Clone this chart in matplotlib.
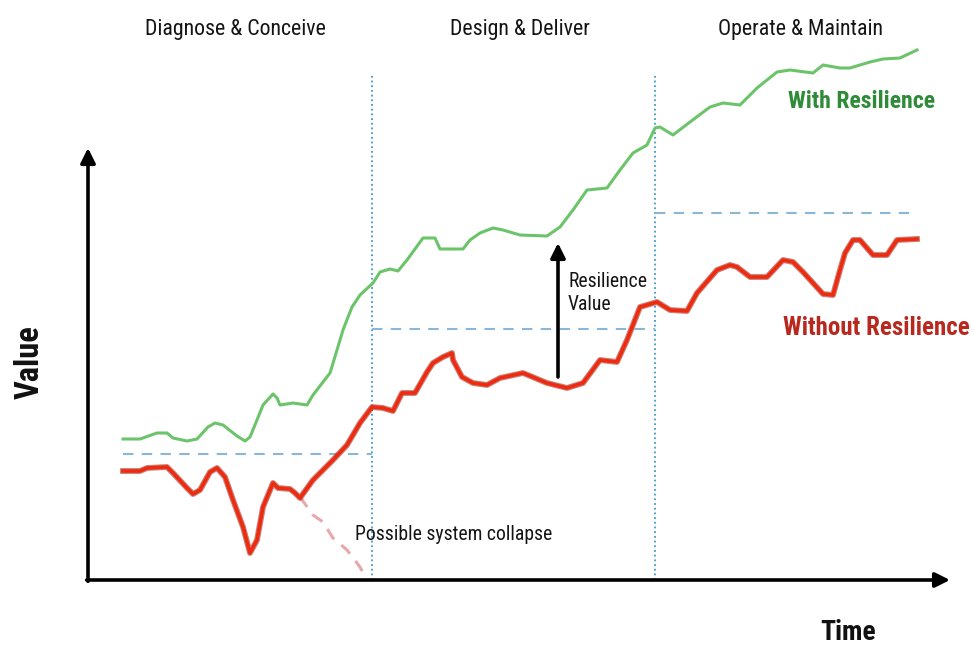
import matplotlib
matplotlib.use("Agg")
import matplotlib.pyplot as plt
import matplotlib.font_manager as font_manager

# Curve values (time, value)
green_t = [35, 52, 69, 79, 85, 99, 109, 120, 127, 135, 149, 157, 162, 169, 175, 185, 189, 192,
           205, 219, 225, 242, 249, 255, 264, 272, 285, 292, 302, 310, 319, 335, 347, 352, 375,
           382, 392, 405, 415, 432, 459, 472, 485, 499, 519, 532, 545, 559, 567, 572, 585, 602,
           622, 635, 652, 669, 689, 702, 725, 735, 752, 762, 782, 795, 812, 829]
green_v = [141, 141, 147, 147, 142, 139, 141, 153, 157, 155, 144, 139, 143, 160, 175, 186, 182, 175,
           177, 175, 185, 207, 230, 250, 273, 285, 297, 308, 311, 309, 320, 342, 342, 331, 331,
           340, 347, 352, 350, 345, 344, 353, 370, 390, 392, 410, 427, 435, 452, 453, 445, 458,
           473, 477, 475, 492, 508, 510, 507, 515, 512, 512, 518, 521, 522, 530]

red_t = [35, 52, 59, 79, 85, 99, 105, 112, 122, 129, 137, 145, 155, 162, 169, 175, 185, 190,
         202, 207, 212, 225, 245, 259, 272, 284, 295, 305, 314, 327, 339, 345, 355, 364, 365,
         374, 385, 399, 412, 435, 459, 479, 495, 512, 529, 539, 552, 569, 582, 599, 609, 629,
         642, 649, 662, 679, 695, 705, 715, 735, 745, 752, 757, 765, 772, 785, 799, 809, 829]
red_v = [109, 109, 112, 113, 107, 92, 86, 90, 108, 112, 103, 80, 53, 27, 40, 73, 97, 92,
         91, 87, 82, 100, 120, 135, 157, 173, 172, 169, 187, 187, 208, 217, 223, 227, 220,
         203, 197, 195, 202, 207, 197, 192, 197, 220, 218, 240, 273, 278, 270, 269, 287, 310,
         315, 313, 303, 303, 320, 318, 308, 286, 285, 310, 327, 340, 340, 325, 325, 340, 341]

collapse_t = [212, 225, 235, 245, 259, 272, 279]
collapse_v = [83, 65, 58, 42, 30, 13, 0]

# Phases: boundaries and baseline value reached in each phase
phase_names = ["Diagnose & Conceive", "Design & Deliver", "Operate & Maintain"]
phase_start = [35, 284, 567]
phase_end = [284, 567, 829]
phase_base = [126, 251, 367]


def pick_font():
    # look for a narrow / condensed sans, else DejaVu
    names = {f.name for f in font_manager.fontManager.ttflist}
    for cand in ['Liberation Sans Narrow', 'Roboto Condensed', 'Open Sans Condensed',
                 'DejaVu Sans Condensed', 'Noto Sans Condensed']:
        if cand in names:
            return cand, 'normal'
    for f in font_manager.fontManager.ttflist:
        if f.name == 'DejaVu Sans' and f.stretch == 'condensed':
            return 'DejaVu Sans', 'condensed'
    return 'DejaVu Sans', 'normal'


font_name, font_stretch = pick_font()
plt.rcParams['font.family'] = [font_name, 'DejaVu Sans']
plt.rcParams['font.stretch'] = font_stretch

fig = plt.figure(figsize=(9.72, 6.54), dpi=100)
ax = fig.add_axes([0, 0, 1, 1])
ax.set_xlim(-88, 884)
ax.set_ylim(-74, 580)
ax.axis('off')

# axes arrows
arrow_kw = dict(arrowstyle='-|>', color='black', lw=2.6, mutation_scale=22, shrinkA=0, shrinkB=0)
ax.annotate('', xy=(862, 0), xytext=(-1.3, 0), arrowprops=arrow_kw)
ax.annotate('', xy=(0, 432), xytext=(0, -1.3), arrowprops=arrow_kw)

# phase dividers and baselines
for x in phase_start[1:]:
    ax.plot([x, x], [0, 505], color='#3f9ad0', lw=1.3, ls=(0, (1, 1.6)))
for s, e, b in zip(phase_start, phase_end, phase_base):
    ax.plot([s, e], [b, b], color='#8ab6d8', lw=1.5, ls=(0, (5, 4)))

# curves
ax.plot(collapse_t, collapse_v, color='#e6a8ac', lw=2.2, ls=(0, (4, 3)))
ax.plot(green_t, green_v, color='#6cc46a', lw=2.2, solid_joinstyle='round')
ax.plot(red_t, red_v, color='#a82a18', lw=4.2, solid_joinstyle='round', alpha=0.6)
ax.plot(red_t, red_v, color='#ee2a10', lw=2.6, solid_joinstyle='round')

# resilience value arrow
ax.annotate('', xy=(470, 337), xytext=(470, 203),
            arrowprops=dict(arrowstyle='-|>', color='black', lw=2.6,
                            mutation_scale=22, shrinkA=0, shrinkB=0))

# phase titles share one size, fitted to their total width in the reference
phase_txt = []
for name, s, e in zip(phase_names, [60, 284, 567], [234, 580, 857]):
    phase_txt.append(ax.text((s + e) / 2, 550, name, ha='center', va='center',
                             fontsize=13, color='#141414'))
phase_width = 174 + 144 + 166

# other texts, each with the width (px) it takes in the reference
labels = []
t = ax.text(773, 478, "With Resilience", ha='center', va='center', fontsize=15,
            fontweight='bold', color='#2e8b37')
labels.append((t, 147, 0))
t = ax.text(788, 252, "Without Resilience", ha='center', va='center', fontsize=15,
            fontweight='bold', color='#b8281e')
labels.append((t, 187, 0))
t = ax.text(480, 287, "Resilience\nValue", ha='left', va='center', fontsize=13,
            color='#141414', linespacing=1.3)
labels.append((t, 79, 0))
t = ax.text(267, 45, "Possible system collapse", ha='left', va='center', fontsize=13,
            color='#141414')
labels.append((t, 197, 0))
t = ax.text(-58, 218, "Value", ha='center', va='center', fontsize=19, fontweight='bold',
            rotation=90, color='#111111')
labels.append((t, 74, 1))
t = ax.text(760, -53, "Time", ha='center', va='center', fontsize=19, fontweight='bold',
            color='#111111')
labels.append((t, 56, 0))

# fit text sizes to the reference
fig.canvas.draw()
renderer = fig.canvas.get_renderer()
for t, w, vertical in labels:
    bb = t.get_window_extent(renderer)
    cur = bb.height if vertical else bb.width
    t.set_fontsize(t.get_fontsize() * w / cur)
total = sum(t.get_window_extent(renderer).width for t in phase_txt)
for t in phase_txt:
    t.set_fontsize(t.get_fontsize() * phase_width / total)

fig.savefig("out.png", dpi=100)
